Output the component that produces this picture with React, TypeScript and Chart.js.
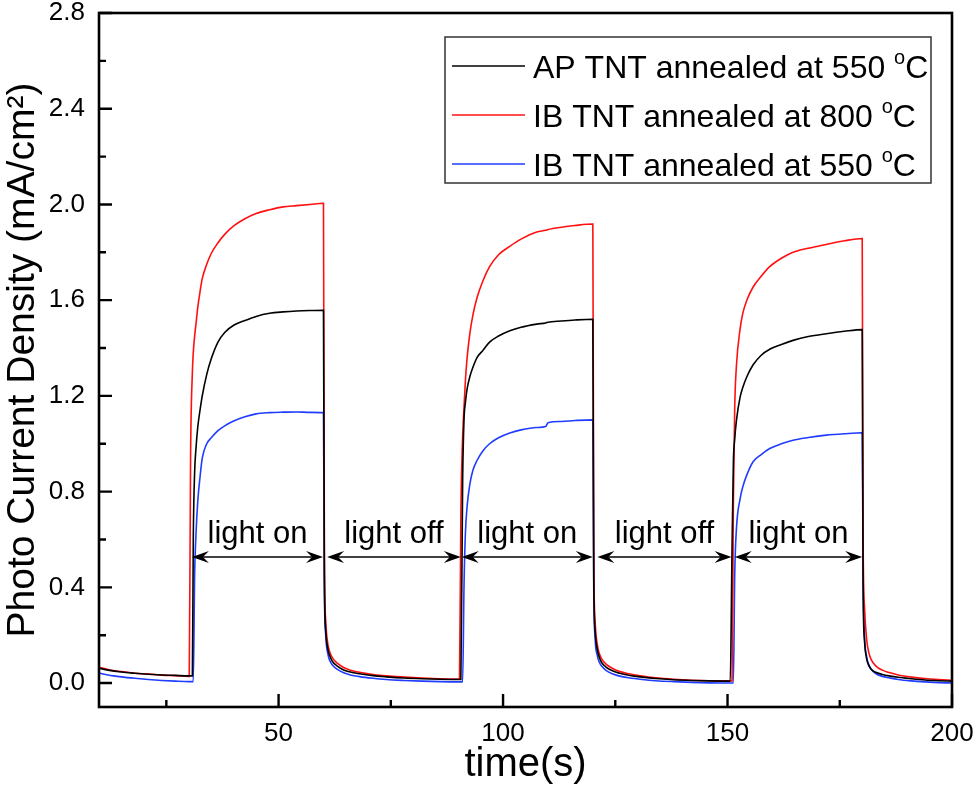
import { useEffect, useRef } from "react";
import { Chart, registerables } from "chart.js";

Chart.register(...registerables);

// time axis (s), shared by the three series
const timeS = [
  10, 12, 15, 18, 21, 24, 27, 30,
  30.1, 30.4, 30.8, 31.0, 31.3, 31.6, 32.0, 32.5, 33, 34, 35, 36.5, 38, 40, 42.5, 45, 48, 51, 54, 57, 60,
  60.2, 60.5, 61, 61.5, 62, 63, 64.5, 66, 68, 71, 74, 78, 82, 86, 90,
  90.3, 90.6, 91.0, 91.3, 91.6, 92, 92.6, 93.3, 94.2, 95.5, 97, 99, 101.5, 104, 107.5, 109.5, 110, 113, 116, 120,
  120.2, 120.5, 121, 121.5, 122, 123, 124.5, 126, 128, 131, 134, 138, 142, 146, 150,
  150.6, 151.0, 151.3, 151.6, 152, 152.8, 153.4, 154.3, 155.7, 157.5, 159.4, 162, 164.6, 168, 172, 176, 180,
  180.2, 180.5, 181, 181.5, 182, 183, 184.5, 186, 188, 191, 194, 197, 200,
];

// AP TNT annealed at 550 °C (mA/cm²)
const apTnt550 = [
  0.062, 0.054, 0.046, 0.041, 0.037, 0.034, 0.032, 0.030,
  0.030, 0.030, 0.030, 0.60, 0.88, 0.98, 1.07, 1.14, 1.20, 1.29, 1.355, 1.425, 1.465, 1.495, 1.515, 1.532, 1.545, 1.551, 1.555, 1.557, 1.558,
  0.45, 0.22, 0.14, 0.11, 0.09, 0.072, 0.055, 0.046, 0.039, 0.031, 0.026, 0.021, 0.018, 0.016, 0.015,
  0.015, 0.015, 0.85, 1.10, 1.17, 1.23, 1.28, 1.32, 1.36, 1.39, 1.425, 1.45, 1.472, 1.487, 1.50, 1.505, 1.508, 1.513, 1.517, 1.52,
  0.45, 0.22, 0.14, 0.105, 0.085, 0.066, 0.05, 0.041, 0.033, 0.025, 0.019, 0.014, 0.011, 0.009, 0.008,
  0.008, 0.55, 0.92, 1.02, 1.10, 1.195, 1.235, 1.28, 1.33, 1.37, 1.395, 1.415, 1.432, 1.448, 1.46, 1.47, 1.477,
  0.40, 0.18, 0.10, 0.072, 0.058, 0.045, 0.036, 0.030, 0.024, 0.018, 0.013, 0.010, 0.008,
];

// IB TNT annealed at 800 °C
const ibTnt800 = [
  0.066, 0.057, 0.048, 0.041, 0.038, 0.033, 0.031, 0.028,
  0.028, 0.95, 1.30, 1.38, 1.45, 1.50, 1.57, 1.635, 1.69, 1.75, 1.795, 1.84, 1.875, 1.91, 1.94, 1.962, 1.978, 1.99, 1.995, 2.0, 2.005,
  0.55, 0.26, 0.16, 0.125, 0.105, 0.084, 0.065, 0.054, 0.045, 0.036, 0.030, 0.025, 0.021, 0.018, 0.017,
  0.017, 0.7, 1.03, 1.15, 1.26, 1.36, 1.46, 1.54, 1.61, 1.68, 1.74, 1.79, 1.825, 1.855, 1.885, 1.892, 1.895, 1.905, 1.912, 1.918,
  0.55, 0.26, 0.16, 0.12, 0.10, 0.078, 0.06, 0.048, 0.039, 0.029, 0.022, 0.016, 0.012, 0.010, 0.009,
  0.009, 0.009, 0.75, 1.15, 1.33, 1.48, 1.545, 1.60, 1.655, 1.70, 1.74, 1.775, 1.80, 1.817, 1.833, 1.848, 1.858,
  0.60, 0.32, 0.18, 0.125, 0.098, 0.072, 0.054, 0.044, 0.034, 0.025, 0.019, 0.015, 0.012,
];

// IB TNT annealed at 550 °C
const ibTnt550 = [
  0.042, 0.034, 0.026, 0.020, 0.015, 0.011, 0.008, 0.006,
  0.006, 0.006, 0.006, 0.006, 0.45, 0.62, 0.76, 0.86, 0.94, 1.0, 1.025, 1.055, 1.075, 1.095, 1.113, 1.125, 1.13, 1.132, 1.133, 1.131, 1.13,
  0.40, 0.20, 0.12, 0.09, 0.075, 0.058, 0.043, 0.034, 0.027, 0.020, 0.015, 0.011, 0.008, 0.006, 0.005,
  0.005, 0.005, 0.005, 0.40, 0.62, 0.74, 0.83, 0.89, 0.93, 0.97, 1.0, 1.025, 1.045, 1.058, 1.068, 1.072, 1.088, 1.093, 1.097, 1.10,
  0.40, 0.19, 0.115, 0.085, 0.07, 0.052, 0.038, 0.029, 0.022, 0.015, 0.010, 0.006, 0.003, 0.001, 0.0,
  0.0, 0.0, 0.0, 0.45, 0.65, 0.77, 0.82, 0.87, 0.925, 0.955, 0.98, 1.0, 1.015, 1.026, 1.036, 1.042, 1.046,
  0.45, 0.20, 0.11, 0.075, 0.058, 0.040, 0.028, 0.022, 0.015, 0.009, 0.005, 0.002, 0.0,
];

const seriesLabels = [
  "AP TNT annealed at 550 °C",
  "IB TNT annealed at 800 °C",
  "IB TNT annealed at 550 °C",
];
const seriesColors = ["#000000", "#ff1010", "#1f3cff"];

const xMajorTicks = [50, 100, 150, 200];
const xMinorTicks = [25, 75, 125, 175];
const yMajorTicks = [0, 0.4, 0.8, 1.2, 1.6, 2.0, 2.4, 2.8];
const yMinorTicks = [0.2, 0.6, 1.0, 1.4, 1.8, 2.2, 2.6];

const phaseLabels = ["light on", "light off", "light on", "light off", "light on"];
const phaseStart = [30.7, 60.8, 90.8, 121.0, 151.6];
const phaseEnd = [59.9, 90.6, 120.0, 150.9, 180.0];
const arrowLevel = 0.527;
const labelLevel = 0.585;

const FONT = "'Liberation Sans', Arial, Helvetica, sans-serif";

const framePlugin = {
  id: "frameAndNotes",
  afterDatasetsDraw(chart: any) {
    const { ctx, chartArea: a, scales } = chart;
    const xs = scales.x;
    const ys = scales.y;
    ctx.save();
    // frame
    ctx.strokeStyle = "#000";
    ctx.lineWidth = 2.6;
    ctx.strokeRect(a.left, a.top, a.right - a.left, a.bottom - a.top);
    // inward ticks
    ctx.lineWidth = 2.4;
    ctx.beginPath();
    xMajorTicks.forEach((v) => {
      const px = xs.getPixelForValue(v);
      ctx.moveTo(px, a.bottom);
      ctx.lineTo(px, a.bottom - 13);
    });
    xMinorTicks.forEach((v) => {
      const px = xs.getPixelForValue(v);
      ctx.moveTo(px, a.bottom);
      ctx.lineTo(px, a.bottom - 7);
    });
    yMajorTicks.forEach((v) => {
      const py = ys.getPixelForValue(v);
      ctx.moveTo(a.left, py);
      ctx.lineTo(a.left + 13, py);
    });
    yMinorTicks.forEach((v) => {
      const py = ys.getPixelForValue(v);
      ctx.moveTo(a.left, py);
      ctx.lineTo(a.left + 7, py);
    });
    ctx.stroke();

    // arrows and phase labels
    ctx.fillStyle = "#000";
    ctx.lineWidth = 1.6;
    const ay = ys.getPixelForValue(arrowLevel);
    const ly = ys.getPixelForValue(labelLevel);
    ctx.font = `31px ${FONT}`;
    ctx.textAlign = "center";
    ctx.textBaseline = "alphabetic";
    phaseLabels.forEach((lab, i) => {
      const x1 = xs.getPixelForValue(phaseStart[i]);
      const x2 = xs.getPixelForValue(phaseEnd[i]);
      ctx.beginPath();
      ctx.moveTo(x1 + 4, ay);
      ctx.lineTo(x2 - 4, ay);
      ctx.stroke();
      ctx.beginPath();
      ctx.moveTo(x1, ay);
      ctx.lineTo(x1 + 17, ay - 6);
      ctx.lineTo(x1 + 11, ay);
      ctx.lineTo(x1 + 17, ay + 6);
      ctx.closePath();
      ctx.fill();
      ctx.beginPath();
      ctx.moveTo(x2, ay);
      ctx.lineTo(x2 - 17, ay - 6);
      ctx.lineTo(x2 - 11, ay);
      ctx.lineTo(x2 - 17, ay + 6);
      ctx.closePath();
      ctx.fill();
      ctx.fillText(lab, (x1 + x2) / 2, ly);
    });

    // legend box
    const bw = 486;
    const bh = 146;
    const bx = a.right - 21 - bw;
    const by = a.top + 24;
    ctx.fillStyle = "#fff";
    ctx.fillRect(bx, by, bw, bh);
    ctx.strokeStyle = "#333";
    ctx.lineWidth = 1.5;
    ctx.strokeRect(bx, by, bw, bh);
    ctx.textAlign = "left";
    chart.data.datasets.forEach((ds: any, i: number) => {
      const rowY = by + 29 + i * 49;
      ctx.strokeStyle = ds.borderColor;
      ctx.lineWidth = 1.5;
      ctx.beginPath();
      ctx.moveTo(bx + 7, rowY);
      ctx.lineTo(bx + 80, rowY);
      ctx.stroke();
      const baseY = rowY + 12;
      const [main, unit] = String(ds.label).split("°");
      ctx.fillStyle = "#000";
      ctx.font = `32px ${FONT}`;
      let tx = bx + 88;
      ctx.fillText(main, tx, baseY);
      tx += ctx.measureText(main).width;
      ctx.font = `20px ${FONT}`;
      ctx.fillText("o", tx, baseY - 14);
      tx += ctx.measureText("o").width;
      ctx.font = `32px ${FONT}`;
      ctx.fillText(unit || "", tx, baseY);
    });
    ctx.restore();
  },
};

export default function App() {
  const ref = useRef<HTMLCanvasElement>(null);
  useEffect(() => {
    const mk = (vals: number[]) => timeS.map((t, i) => ({ x: t, y: vals[i] }));
    const chart = new Chart(ref.current as HTMLCanvasElement, {
      type: "line",
      data: {
        datasets: [apTnt550, ibTnt800, ibTnt550].map((vals, i) => ({
          label: seriesLabels[i],
          data: mk(vals),
          borderColor: seriesColors[i],
          backgroundColor: seriesColors[i],
          borderWidth: 1.6,
          pointRadius: 0,
          cubicInterpolationMode: "monotone" as const,
          fill: false,
        })),
      },
      options: {
        responsive: false,
        devicePixelRatio: 1,
        animation: false,
        layout: { autoPadding: false, padding: { left: 0, top: 13, right: 24, bottom: 0 } },
        plugins: { legend: { display: false }, tooltip: { enabled: false } },
        scales: {
          x: {
            type: "linear",
            position: "bottom",
            min: 10,
            max: 200,
            grid: { display: false, drawTicks: false },
            border: { display: false },
            afterBuildTicks: (s: any) => {
              s.ticks = xMajorTicks.map((v) => ({ value: v }));
            },
            afterFit: (s: any) => {
              s.height = 82;
              s.paddingLeft = 0;
              s.paddingRight = 0;
              s.paddingTop = 0;
              s.paddingBottom = 0;
            },
            ticks: {
              color: "#000",
              font: { family: FONT, size: 26 },
              padding: 11,
              maxRotation: 0,
              callback: (v: any) => String(v),
            },
            title: {
              display: true,
              text: "time(s)",
              color: "#000",
              font: { family: FONT, size: 40 },
              padding: { top: 0, bottom: 0 },
            },
          },
          y: {
            type: "linear",
            min: -0.1,
            max: 2.8,
            grid: { display: false, drawTicks: false },
            border: { display: false },
            afterBuildTicks: (s: any) => {
              s.ticks = yMajorTicks.map((v) => ({ value: v }));
            },
            afterFit: (s: any) => {
              s.width = 99;
              s.paddingLeft = 0;
              s.paddingRight = 0;
              s.paddingTop = 0;
              s.paddingBottom = 0;
            },
            ticks: {
              color: "#000",
              font: { family: FONT, size: 26 },
              padding: 14,
              callback: (v: any) => Number(v).toFixed(1),
            },
            title: {
              display: true,
              text: "Photo Current Density (mA/cm²)",
              color: "#000",
              font: { family: FONT, size: 39 },
              padding: { top: 0, bottom: 0 },
            },
          },
        },
      },
      plugins: [framePlugin],
    });
    return () => chart.destroy();
  }, []);
  return (
    <div style={{ position: "absolute", left: 0, top: 0, width: 976, height: 789, background: "#fff" }}>
      <canvas ref={ref} width={976} height={789} style={{ display: "block", width: 976, height: 789 }} />
    </div>
  );
}
